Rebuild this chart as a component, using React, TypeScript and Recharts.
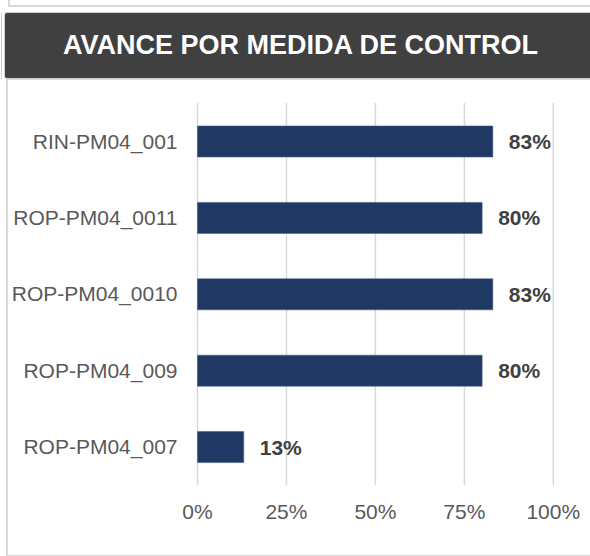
import { BarChart, Bar, XAxis, YAxis, CartesianGrid, LabelList } from 'recharts';

const categories = ['RIN-PM04_001', 'ROP-PM04_0011', 'ROP-PM04_0010', 'ROP-PM04_009', 'ROP-PM04_007'];
const avance = [0.83, 0.8, 0.83, 0.8, 0.13];
const xTicks = [0, 0.25, 0.5, 0.75, 1];

const data = categories.map((name, i) => ({ name, avance: avance[i] }));

const pct = (v: number) => `${Math.round(v * 100)}%`;

export default function App() {
    return (
        <div style={{ position: 'absolute', left: 0, top: 0, width: 590, height: 556, overflow: 'hidden', background: '#fff', fontFamily: '"Liberation Sans", Arial, sans-serif' }}>
            {/* piece of the card above */}
            <div style={{ position: 'absolute', left: 8, top: -12, width: 620, height: 15, border: '2px solid #d9d9d9', background: '#fff' }} />
            <div style={{ position: 'absolute', left: 1, top: 12, width: 1, height: 67, background: '#d0d0d0' }} />

            {/* chart panel */}
            <div style={{ position: 'absolute', left: 6, top: 78, width: 620, height: 475, border: '2px solid #d9d9d9', background: '#fff' }} />

            {/* header */}
            <div
                style={{
                    position: 'absolute', left: 4, top: 12, width: 620, height: 67,
                    background: '#404040', borderRadius: 3, border: '1px solid #cfcfcf', boxSizing: 'border-box',
                }}
            />
            <div
                style={{
                    position: 'absolute', left: 4, top: 12, width: 593, height: 67,
                    display: 'flex', alignItems: 'center', justifyContent: 'center',
                    color: '#fff', fontWeight: 700, fontSize: 27, letterSpacing: 0,
                }}
            >
                AVANCE POR MEDIDA DE CONTROL
            </div>

            <div style={{ position: 'absolute', left: 0, top: 0 }}>
                <BarChart
                    width={590}
                    height={556}
                    data={data}
                    layout="vertical"
                    margin={{ top: 103, right: 36.7, bottom: 21, left: 17.5 }}
                >
                    <CartesianGrid horizontal={false} stroke="#d9d9d9" strokeWidth={1.5} />
                    <XAxis
                        type="number"
                        domain={[0, 1]}
                        ticks={xTicks}
                        tickFormatter={pct}
                        axisLine={false}
                        tickLine={false}
                        tickSize={0}
                        tickMargin={19}
                        height={50}
                        tick={{ fill: '#595959', fontSize: 21 }}
                    />
                    <YAxis
                        type="category"
                        dataKey="name"
                        width={180}
                        axisLine={false}
                        tickLine={false}
                        tickSize={0}
                        tickMargin={20}
                        tick={{ fill: '#595959', fontSize: 21 }}
                    />
                    <Bar dataKey="avance" fill="#1f3864" stroke="#4a5d85" strokeWidth={0.6} barSize={31} isAnimationActive={false}>
                        <LabelList
                            dataKey="avance"
                            position="right"
                            offset={16}
                            formatter={(v: any) => pct(Number(v))}
                            style={{ fill: '#404040', fontSize: 21, fontWeight: 700 }}
                        />
                    </Bar>
                </BarChart>
            </div>
        </div>
    );
}
